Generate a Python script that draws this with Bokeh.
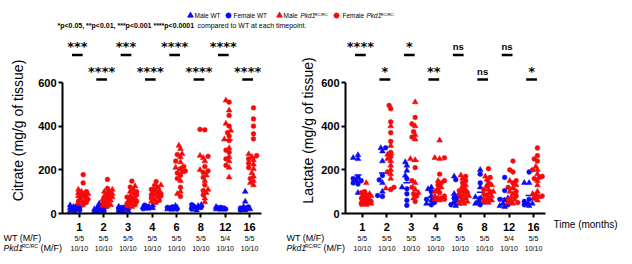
import numpy as np
from bokeh.plotting import figure
from bokeh.models import Range1d, FixedTicker, Label
from bokeh.layouts import column, row
from bokeh.embed import file_html
from bokeh.resources import INLINE

# ---------------- data ----------------
timepoints = ["1", "2", "3", "4", "6", "8", "12", "16"]
n_wt = ["5/5", "5/5", "5/5", "5/5", "5/5", "5/5", "5/4", "5/5"]
n_pkd = ["10/10", "10/10", "10/10", "10/10", "10/10", "10/10", "10/10", "10/10"]

# Citrate (mg/g of tissue)
cit_wt_m = [
    [18, 25, 30, 38, 12], [10, 20, 45, 30, 14], [12, 25, 32, 20, 10], [25, 30, 38, 22, 28],
    [20, 28, 35, 18, 25], [25, 35, 40, 15, 30], [18, 25, 30, 20, 22], [100, 55, 30, 15, 20],
]
cit_wt_f = [
    [15, 22, 28, 35, 10], [12, 18, 25, 8, 30], [15, 22, 30, 10, 28], [25, 32, 38, 28, 22],
    [20, 25, 30, 22, 28], [28, 35, 40, 30, 20], [20, 25, 28, 22], [20, 25, 30, 15, 22],
]
cit_pkd_m = [
    [110, 100, 95, 90, 80, 75, 70, 60, 55, 45],
    [110, 100, 90, 80, 75, 65, 60, 50, 40, 35],
    [125, 110, 100, 90, 80, 70, 60, 55, 45, 30],
    [130, 120, 110, 105, 100, 90, 85, 75, 65, 55],
    [311, 296, 273, 258, 235, 210, 190, 150, 100, 90],
    [265, 255, 240, 200, 175, 150, 110, 95, 70, 52],
    [518, 472, 412, 380, 340, 300, 260, 240, 210, 166],
    [272, 260, 245, 225, 205, 185, 170, 150, 140, 130],
]
cit_pkd_f = [
    [178, 140, 100, 90, 85, 75, 65, 55, 50, 40],
    [156, 115, 100, 90, 80, 70, 60, 50, 40, 32],
    [148, 121, 100, 85, 75, 65, 55, 45, 40, 35],
    [146, 128, 110, 100, 90, 85, 80, 70, 60, 50],
    [270, 240, 215, 205, 195, 185, 175, 160, 120, 78],
    [385, 383, 262, 215, 195, 188, 165, 130, 105, 85],
    [510, 449, 400, 370, 355, 334, 290, 280, 250, 220],
    [484, 433, 400, 365, 342, 265, 250, 230, 210, 160],
]
cit_sig = ["***", "****", "***", "****", "****", "****", "****", "****"]

# Lactate (mg/g of tissue)
lac_wt_m = [
    [268, 255, 250, 150, 95], [300, 285, 240, 140, 100], [235, 220, 197, 174, 120], [120, 112, 80, 60, 45],
    [170, 90, 60, 45, 35], [200, 120, 75, 50, 45], [70, 60, 45, 35, 30], [140, 140, 70, 45, 35],
]
lac_wt_f = [
    [165, 160, 150, 140, 135], [301, 174, 154, 82, 78], [159, 113, 90, 60, 37], [100, 70, 65, 50, 40],
    [155, 80, 70, 50, 40], [180, 140, 70, 55, 40], [165, 105, 65, 40], [190, 65, 55, 45, 40],
]
lac_pkd_m = [
    [140, 90, 80, 70, 65, 60, 55, 50, 45, 40],
    [400, 310, 270, 250, 240, 220, 200, 180, 160, 115],
    [510, 400, 360, 340, 250, 245, 140, 110, 95, 70],
    [335, 255, 250, 150, 120, 100, 80, 70, 65, 60],
    [175, 160, 130, 110, 100, 90, 80, 70, 55, 45],
    [170, 155, 130, 110, 100, 90, 80, 70, 60, 50],
    [150, 130, 120, 100, 90, 75, 65, 55, 50, 45],
    [215, 200, 180, 165, 150, 130, 100, 90, 75, 60],
]
lac_pkd_f = [
    [100, 95, 85, 80, 75, 70, 60, 55, 48, 42],
    [495, 480, 420, 370, 330, 280, 260, 190, 120, 110],
    [440, 410, 375, 350, 210, 150, 120, 90, 80, 55],
    [255, 180, 150, 140, 130, 110, 95, 80, 70, 65],
    [170, 150, 140, 120, 105, 95, 85, 75, 60, 50],
    [205, 165, 140, 125, 110, 95, 85, 70, 60, 55],
    [240, 200, 190, 150, 140, 120, 100, 80, 65, 50],
    [300, 265, 250, 240, 200, 170, 160, 85, 80, 70],
]
lac_sig = ["****", "*", "*", "**", "ns", "ns", "ns", "*"]

# ---------------- style / geometry ----------------
BLUE = "#0a0af5"
RED = "#f50a0a"
FONT = "Liberation Sans"
STAR_FONT = "DejaVu Sans"

W, H = 632, 264
HEAD_H = 36            # legend + footnote strip
AXIS_Y = 213           # pixel row of the x axis
TICK_BORDER = 6        # room for the x ticks under the axis
MID_BOTTOM = AXIS_Y + TICK_BORDER
AXIS_PX = 131          # pixel length of the 0..600 y axis
YMAX = 600
X0, X1 = 0.31, 8.49
PX_Y = AXIS_PX / YMAX  # pixels per mg/g

MID_H = MID_BOTTOM - HEAD_H
FRAME_H = AXIS_Y - HEAD_H

# horizontal layout of the middle row: (fig left, axis left, axis right, fig right)
LEFT_PANEL = (30, 62, 261, 284)
RIGHT_PANEL = (318, 345, 545, 632)


def pixel_fig(x0, x1, y0, y1, bottom_border=0):
    """Blank figure whose data coordinates equal page pixels."""
    f = figure(width=x1 - x0, height=y1 - y0, x_range=Range1d(x0, x1),
               y_range=Range1d(y1 - bottom_border, y0), min_border_left=0,
               min_border_right=0, min_border_top=0, min_border_bottom=bottom_border,
               toolbar_location=None, output_backend="svg", x_axis_type=None,
               y_axis_type=None, outline_line_color=None, background_fill_color="white",
               border_fill_color="white")
    f.xgrid.visible = False
    f.ygrid.visible = False
    return f


def text(p, x, y, s, size, style="normal", font=FONT, align="left", baseline="middle",
         angle=0.0, x_units="data", y_units="data"):
    p.add_layout(Label(x=x, y=y, x_units=x_units, y_units=y_units, text=s,
                       text_font=font, text_font_size=f"{size}px", text_font_style=style,
                       text_align=align, text_baseline=baseline, angle=angle,
                       text_color="black"))


def swarm(values, px_x, step=1.6, min_d=3.6, max_k=3):
    """Deterministic beeswarm offsets (in data x units) for one column of points."""
    order = np.argsort(values, kind="stable")
    cands = [0.0] + [s * k * step for k in range(1, max_k + 1) for s in (-1, 1)]
    placed, offs = [], np.zeros(len(values))
    for i in order:
        py = values[i] * PX_Y
        best, best_d = 0.0, -1.0
        for c in cands:
            d = min([np.hypot(c - dx, py - yy) for dx, yy in placed], default=1e9)
            if d >= min_d:
                best = c
                break
            if d > best_d:
                best, best_d = c, d
        placed.append((best, py))
        offs[i] = best
    return offs / px_x


def tick_px(geom, i):
    _, a0, a1, _ = geom
    return a0 + (i + 1 - X0) * (a1 - a0) / (X1 - X0)


def make_panel(geom, wt_m, wt_f, pk_m, pk_f, sig):
    f0, a0, a1, f1 = geom
    px_x = (a1 - a0) / (X1 - X0)
    p = figure(width=f1 - f0, height=MID_H, x_range=Range1d(X0, X1),
               y_range=Range1d(0, YMAX * FRAME_H / AXIS_PX),
               min_border_left=a0 - f0, min_border_right=f1 - a1, min_border_top=0,
               min_border_bottom=TICK_BORDER, toolbar_location=None, output_backend="svg",
               outline_line_color=None, background_fill_color="white",
               border_fill_color="white")
    p.xgrid.visible = False
    p.ygrid.visible = False

    p.yaxis.bounds = (0, YMAX)
    p.yaxis.ticker = FixedTicker(ticks=[0, 200, 400, 600])
    p.xaxis.ticker = FixedTicker(ticks=list(range(1, 9)))
    for ax in (p.xaxis, p.yaxis):
        ax.axis_line_width = 2
        ax.axis_line_color = "black"
        ax.major_tick_line_width = 2
        ax.major_tick_out = 4
        ax.major_tick_in = 0
        ax.minor_tick_line_color = None
        ax.major_label_text_font = FONT
        ax.major_label_text_font_style = "bold"
    p.yaxis.major_label_text_color = "black"
    p.yaxis.major_label_text_font_size = "11px"
    p.yaxis.major_label_standoff = 2
    # timepoint labels are set in the strip below, together with the group sizes
    p.xaxis.major_label_text_color = None
    p.xaxis.major_label_text_font_size = "1px"
    p.xaxis.major_label_standoff = 0

    for off, color, males, females in ((-0.18, BLUE, wt_m, wt_f), (0.16, RED, pk_m, pk_f)):
        for i in range(len(timepoints)):
            vals = np.array(males[i] + females[i], dtype=float)
            xs = i + 1 + off + swarm(vals, px_x)
            nm = len(males[i])
            p.scatter(xs[:nm], vals[:nm], marker="triangle", size=5.8,
                      fill_color=color, line_color=color, line_width=0.5)
            p.scatter(xs[nm:], vals[nm:], marker="circle", size=4.8,
                      fill_color=color, line_color=color, line_width=0.5)
            m = vals.mean()
            half = 3.5 / px_x
            p.segment(x0=[i + 1 + off - half], x1=[i + 1 + off + half], y0=[m], y1=[m],
                      line_color=color, line_width=1.5)

    # significance: asterisks over short bars, in two staggered rows
    star_base = (167.5, 142.5)   # px above x axis
    ns_base = (167, 142)
    bar_px = (158.5, 134)
    for i, s in enumerate(sig):
        r = i % 2
        xc = i + 1 - 0.08
        if s == "ns":
            text(p, xc, ns_base[r], s, 9.5, style="bold", align="center",
                 baseline="alphabetic", y_units="screen")
        else:
            text(p, xc, star_base[r], s, 13, style="bold", font=STAR_FONT, align="center",
                 baseline="alphabetic", y_units="screen")
        yb = bar_px[r] / PX_Y
        p.segment(x0=[xc - 0.22], x1=[xc + 0.22], y0=[yb], y1=[yb],
                  line_color="black", line_width=2.5)
    return p


def ytitle(x0, x1, xc, s):
    f = pixel_fig(x0, x1, HEAD_H, MID_BOTTOM, TICK_BORDER)
    text(f, xc, 130, s, 14, align="center", angle=np.pi / 2)
    return f


# ---------------- panels ----------------
left_fig = make_panel(LEFT_PANEL, cit_wt_m, cit_wt_f, cit_pkd_m, cit_pkd_f, cit_sig)
right_fig = make_panel(RIGHT_PANEL, lac_wt_m, lac_wt_f, lac_pkd_m, lac_pkd_f, lac_sig)
yt_left = ytitle(0, LEFT_PANEL[0], 17, "Citrate (mg/g of tissue)")
yt_right = ytitle(LEFT_PANEL[3], RIGHT_PANEL[0], 307, "Lactate (mg/g of tissue)")

# ---------------- header: legend + footnote ----------------
head = pixel_fig(0, W, 0, HEAD_H)
legend_marks = [("triangle", BLUE, 190), ("circle", BLUE, 228),
                ("triangle", RED, 279), ("circle", RED, 336)]
for mk, col, x in legend_marks:
    head.scatter([x], [15], marker=mk, size=5.5 if mk == "triangle" else 5,
                 fill_color=col, line_color=col)
text(head, 194, 15, "Male WT", 6.5)
text(head, 233, 15, "Female WT", 6.5)
text(head, 283, 15, "Male", 6.5)
text(head, 300, 15, "Pkd1", 6.5, style="italic")
text(head, 314, 13.5, "RC/RC", 4.2)
text(head, 342, 15, "Female", 6.5)
text(head, 366, 15, "Pkd1", 6.5, style="italic")
text(head, 380, 13.5, "RC/RC", 4.2)
text(head, 57, 25, "*p<0.05, **p<0.01, ***p<0.001 ****p<0.0001", 7, style="bold")
text(head, 197, 25, "compared to WT at each timepoint.", 7)

# ---------------- footer: timepoints and group sizes ----------------
foot = pixel_fig(0, W, MID_BOTTOM, H)
for geom in (LEFT_PANEL, RIGHT_PANEL):
    for i in range(len(timepoints)):
        x = tick_px(geom, i)
        text(foot, x, 226.5, timepoints[i], 11, style="bold", align="center")
        text(foot, x, 237.5, n_wt[i], 7, align="center")
        text(foot, x, 247.5, n_pkd[i], 7, align="center")
    lx = geom[1] - 59
    text(foot, lx, 237.5, "WT (M/F)", 9)
    text(foot, lx, 247.5, "Pkd1", 8.5, style="italic")
    text(foot, lx + 18, 245, "RC/RC", 5.2, style="italic")
    text(foot, lx + 37, 247.5, "(M/F)", 9)
text(foot, 553, 223.5, "Time (months)", 10)

layout = column(head, row(yt_left, left_fig, yt_right, right_fig), foot)
open("out.html", "w").write(file_html(layout, INLINE))
